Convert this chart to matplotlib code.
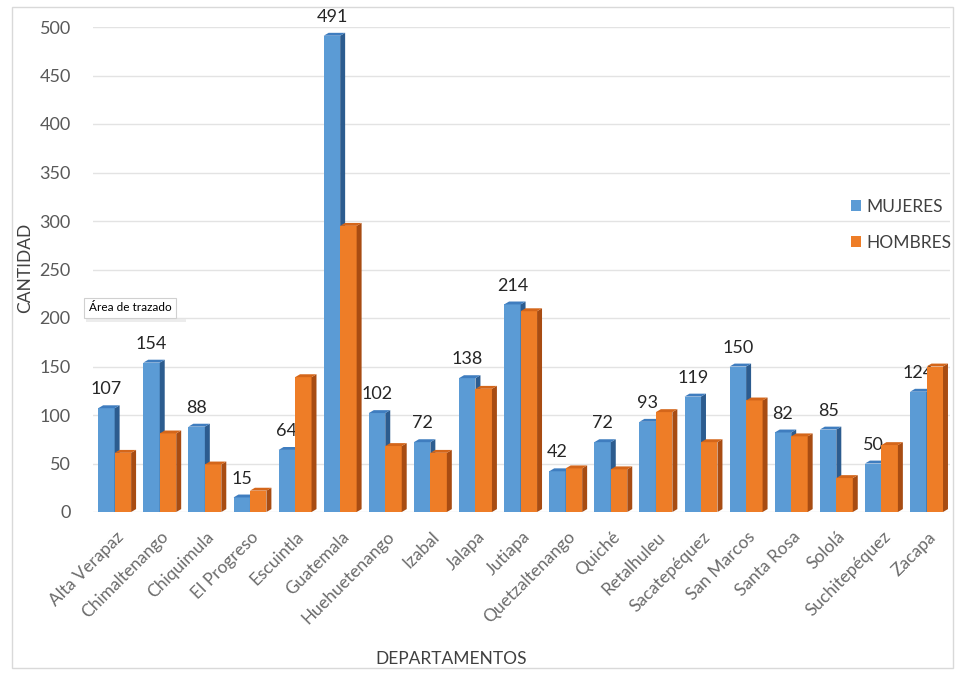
import matplotlib.pyplot as plt
from matplotlib.patches import Polygon, Patch, Rectangle

departamentos = ['Alta Verapaz', 'Chimaltenango', 'Chiquimula', 'El Progreso',
                 'Escuintla', 'Guatemala', 'Huehuetenango', 'Izabal', 'Jalapa',
                 'Jutiapa', 'Quetzaltenango', 'Quiché', 'Retalhuleu',
                 'Sacatepéquez', 'San Marcos', 'Santa Rosa', 'Sololá',
                 'Suchitepéquez', 'Zacapa']
mujeres = [107, 154, 88, 15, 64, 491, 102, 72, 138, 214, 42, 72, 93, 119, 150, 82, 85, 50, 124]
hombres = [61, 81, 49, 22, 139, 295, 68, 61, 127, 207, 45, 44, 103, 72, 115, 78, 35, 69, 150]

plt.rcParams['font.family'] = ['Lato', 'DejaVu Sans']
gray = '#595959'

fig = plt.figure(figsize=(9.63, 6.73), dpi=100)
ax = fig.add_axes([93 / 963, 1 - 512 / 673, 857 / 963, 485 / 673])

# light border around the chart area
fig.patches.append(Rectangle((12 / 963, 1 - 668 / 673), 941 / 963, 661 / 673,
                             transform=fig.transFigure, fill=False,
                             ec='#d9d9d9', lw=1))

w = 0.365
dx, dy = 0.11, 3.0  # depth of the fake 3d faces


def bars3d(xs, vals, face, side, top, z):
    cont = ax.bar(xs, vals, width=w, align='edge', color=face, zorder=z)
    for r in cont:
        x0, h = r.get_x(), r.get_height()
        x1 = x0 + w
        ax.add_patch(Polygon([(x1, 0), (x1 + dx, dy), (x1 + dx, h + dy), (x1, h)],
                             closed=True, fc=side, ec='none', zorder=z))
        ax.add_patch(Polygon([(x0, h), (x0 + dx, h + dy), (x1 + dx, h + dy), (x1, h)],
                             closed=True, fc=top, ec='none', zorder=z))


pos = range(len(departamentos))
bars3d([p - w - 0.02 for p in pos], mujeres, '#5B9BD5', '#2C5C8F', '#3F7DBF', 3)
bars3d([p - 0.02 for p in pos], hombres, '#EE7D27', '#A84C12', '#D4661A', 4)

# value labels sit behind the bars
for p, v in zip(pos, mujeres):
    ax.annotate(str(v), (p - w / 2 - 0.02, v), xytext=(0, 10),
                textcoords='offset points', ha='center', va='baseline',
                fontsize=13, color='#262626', zorder=2.5)

ax.set_xlim(-0.5, len(departamentos) - 0.5)
ax.set_ylim(0, 500)
ax.set_yticks(range(0, 501, 50))
ax.yaxis.grid(True, color='#e3e3e3', lw=1)
ax.set_axisbelow(True)
for s in ax.spines.values():
    s.set_visible(False)
ax.tick_params(axis='y', length=0, pad=16, labelsize=13, labelcolor=gray)
ax.set_xticks(list(pos))
ax.set_xticklabels(departamentos, rotation=45, ha='right', va='top',
                   rotation_mode='anchor', fontsize=12.5, color='#6b6b6b')
ax.tick_params(axis='x', length=0, pad=12)

fig.text(25 / 963, 1 - 268 / 673, 'CANTIDAD', rotation=90, ha='center',
         va='center', fontsize=12.5, color='#404040')
fig.text(451 / 963, 1 - 659 / 673, 'DEPARTAMENTOS', ha='center', va='center',
         fontsize=12.5, color='#404040')

handles = [Patch(fc='#5B9BD5', label='MUJERES'), Patch(fc='#EE7D27', label='HOMBRES')]
leg = ax.legend(handles=handles, loc='upper left', frameon=False,
                bbox_to_anchor=(842 / 963, 1 - 190 / 673),
                bbox_transform=fig.transFigure, borderpad=0,
                handlelength=0.6, handleheight=0.6, handletextpad=0.3,
                labelspacing=1.15, fontsize=12.5)
for t in leg.get_texts():
    t.set_color('#404040')

# hover tooltip with a soft drop shadow
fig.text(89 / 963, 1 - 308 / 673, 'Área de trazado', ha='left', va='center',
         fontsize=8.5, color='black',
         bbox=dict(boxstyle='square,pad=0.4', fc='white', ec='#d0d0d0', lw=0.8))
fig.patches.append(Rectangle((86 / 963, 1 - 322 / 673), 100 / 963, 3 / 673,
                             transform=fig.transFigure, fc='#ececec', ec='none',
                             zorder=0.5))

fig.savefig('out.png', dpi=100)
